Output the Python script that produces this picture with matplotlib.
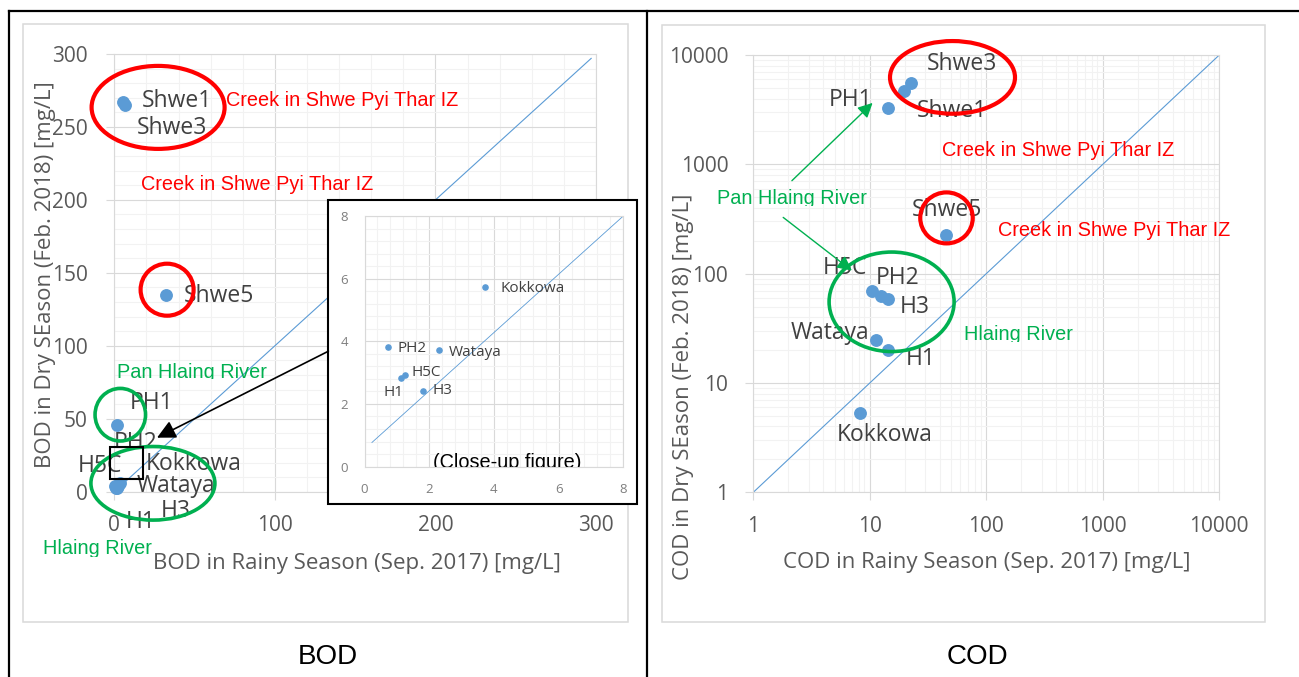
import matplotlib
matplotlib.use('Agg')
import matplotlib.pyplot as plt
from matplotlib import font_manager
from matplotlib.patches import Ellipse, Rectangle, FancyArrowPatch
from matplotlib.lines import Line2D
from matplotlib.ticker import MultipleLocator, LogLocator, NullFormatter, FuncFormatter
from matplotlib.transforms import Bbox, TransformedBbox

# ---- data ----
sites = ['Shwe1', 'Shwe3', 'Shwe5', 'PH1', 'PH2', 'H5C', 'H1', 'H3', 'Wataya', 'Kokkowa']
bod_rainy = [5.4, 6.7, 32.1, 1.9, 0.72, 1.26, 1.14, 1.80, 2.30, 3.71]
bod_dry = [267, 265, 134.7, 45.6, 3.81, 2.94, 2.83, 2.42, 3.71, 5.73]
cod_rainy = [19.5, 22.8, 45, 14.4, 12.4, 10.4, 14.4, 14.4, 11.2, 8.3]
cod_dry = [4700, 5500, 225, 3300, 62, 70, 20, 59, 24.5, 5.3]
closeup_sites = ['PH2', 'H5C', 'H1', 'H3', 'Wataya', 'Kokkowa']

bod_xticks = [0, 100, 200, 300]
bod_yticks = [0, 50, 100, 150, 200, 250, 300]
closeup_ticks = [0, 2, 4, 6, 8]
cod_ticks = [1, 10, 100, 1000, 10000]
bod_line = [0, 297]
closeup_line_x = [0.23, 8]
closeup_line_y = [0.77, 8]
cod_line = [1, 10000]

# ---- layout (pixels, origin top-left) ----
W, H = 1299, 677

def fx(px):
    return px / W

def fy(py):
    return 1 - py / H

# label anchor: (left edge, vertical centre)
bod_label_pos = {
    'Shwe1': (141.6, 101), 'Shwe3': (137.2, 128), 'Shwe5': (184, 296),
    'PH1': (130.2, 403), 'PH2': (113.6, 443), 'H5C': (77.6, 466),
    'Kokkowa': (145.5, 464), 'Wataya': (136.4, 486), 'H3': (160.3, 511),
    'H1': (126, 522),
}
bod_label_clip = {'PH2': 447}
closeup_label_pos = {
    'Kokkowa': (500.6, 289), 'PH2': (397.6, 348), 'Wataya': (448.8, 352),
    'H5C': (411.3, 373), 'H1': (383.5, 392), 'H3': (432, 391),
}
cod_label_pos = {
    'Shwe3': (927.2, 64), 'Shwe1': (916.9, 111), 'PH1': (828.7, 100),
    'Shwe5': (911.5, 210), 'H5C': (823, 268), 'PH2': (875.5, 278),
    'H3': (899.5, 307), 'Wataya': (790.7, 333), 'H1': (905.7, 359),
    'Kokkowa': (837, 435),
}

BLUE = '#5B9BD5'
GRID = '#D9D9D9'
MINOR = '#F2F2F2'
TICK = '#595959'
LABEL = '#404040'
RED = '#FF0000'
GREEN = '#00B050'

# Arial-like face for the hand-placed notes (narrow variant if installed)
names = {f.name for f in font_manager.fontManager.ttflist}
if 'Liberation Sans Narrow' in names:
    NARROW, NSCALE = 'Liberation Sans Narrow', 1.0
else:
    NARROW, NSCALE = 'Liberation Sans', 0.84

plt.rcParams['font.family'] = ['Open Sans', 'DejaVu Sans']

fig = plt.figure(figsize=(W / 100, H / 100), dpi=100)


def clip_below(artist, py):
    artist.set_clip_box(TransformedBbox(Bbox.from_extents(0, fy(py), 1, 1), fig.transFigure))
    artist.set_clip_on(True)


def style(ax, size, padx, pady, ticklen):
    ax.set_facecolor('white')
    for s in ax.spines.values():
        s.set_color(GRID)
        s.set_linewidth(0.8)
    ax.grid(which='minor', color=MINOR, lw=0.8)
    ax.grid(which='major', color=GRID, lw=0.8)
    ax.set_axisbelow(True)
    ax.tick_params(which='major', direction='out', length=ticklen, width=0.8,
                   color=GRID, labelsize=size, labelcolor=TICK)
    ax.tick_params(which='minor', length=0)
    ax.tick_params(axis='x', pad=padx)
    ax.tick_params(axis='y', pad=pady)


def put_labels(ax, xs, ys, pos, size, clips={}):
    for name, x, y in zip(sites, xs, ys):
        if name not in pos:
            continue
        px, py = pos[name]
        a = ax.annotate(name, xy=(x, y), xytext=(px, H - py), textcoords='figure pixels',
                        ha='left', va='center', fontsize=size, color=LABEL,
                        annotation_clip=False)
        if name in clips:
            clip_below(a, clips[name])


def note(px, py, s, color, size=17, clip_bottom=None):
    t = fig.text(fx(px), fy(py), s, color=color, fontsize=size * NSCALE,
                 family=NARROW, ha='left', va='center')
    if clip_bottom is not None:
        clip_below(t, clip_bottom)
    return t


def ring(cx, cy, w, h, color, lw):
    fig.add_artist(Ellipse((fx(cx), fy(cy)), w / W, h / H, transform=fig.transFigure,
                           fill=False, edgecolor=color, lw=lw, zorder=4))


def arrow(x0, y0, x1, y1, color, lw, scale):
    fig.add_artist(FancyArrowPatch((fx(x0), fy(y0)), (fx(x1), fy(y1)),
                                   transform=fig.transFigure, arrowstyle='-|>',
                                   mutation_scale=scale, color=color, lw=lw,
                                   shrinkA=0, shrinkB=0, zorder=4))


# ---- table lines and chart frames ----
fig.add_artist(Line2D([fx(9), 1], [fy(10.5), fy(10.5)], transform=fig.transFigure,
                      color='black', lw=1.6))
for x in (9, 646.5):
    fig.add_artist(Line2D([fx(x), fx(x)], [fy(10.5), 0], transform=fig.transFigure,
                          color='black', lw=1.6))
for x0, y0, x1, y1 in [(22.7, 24, 627.7, 621.7), (662, 25, 1265, 621.7)]:
    fig.add_artist(Rectangle((fx(x0), fy(y1)), (x1 - x0) / W, (y1 - y0) / H,
                             transform=fig.transFigure, fill=False,
                             edgecolor=GRID, lw=1.1))

# ---- BOD ----
ax_b = fig.add_axes([fx(114.3), fy(491.7), (596 - 114.3) / W, (491.7 - 54) / H])
style(ax_b, 15, 11, 13, 6)
ax_b.set_xlim(0, 300)
ax_b.set_ylim(0, 300)
ax_b.set_xticks(bod_xticks)
ax_b.set_yticks(bod_yticks)
ax_b.xaxis.set_minor_locator(MultipleLocator(20))
ax_b.yaxis.set_minor_locator(MultipleLocator(10))
ax_b.plot(bod_line, bod_line, color=BLUE, lw=0.8, zorder=2)
ax_b.scatter(bod_rainy, bod_dry, s=68, color=BLUE, zorder=3, clip_on=False)
put_labels(ax_b, bod_rainy, bod_dry, bod_label_pos, 16.5, bod_label_clip)
ax_b.set_xlabel('BOD in Rainy Season (Sep. 2017) [mg/L]', fontsize=16, color=TICK, va='center')
ax_b.xaxis.set_label_coords((356.6 - 114.3) / 481.7, (491.7 - 563.3) / 437.7)
ax_b.set_ylabel('BOD in Dry SEason (Feb. 2018) [mg/L]', fontsize=16, color=TICK, va='center')
ax_b.yaxis.set_label_coords((45 - 114.3) / 481.7, (491.7 - 274.4) / 437.7)

# close-up inset
fig.add_artist(Rectangle((fx(328.4), fy(503.5)), (637.3 - 328.4) / W, (503.5 - 200) / H,
                         transform=fig.transFigure, facecolor='white',
                         edgecolor='black', lw=1.5, zorder=1.5))
ax_i = fig.add_axes([fx(364.5), fy(466.6), (623.3 - 364.5) / W, (466.6 - 216) / H], zorder=2)
style(ax_i, 9.5, 12, 12, 0)
ax_i.tick_params(labelcolor='#7F7F7F')
ax_i.set_xlim(0, 8)
ax_i.set_ylim(0, 8)
ax_i.set_xticks(closeup_ticks)
ax_i.set_yticks(closeup_ticks)
ax_i.xaxis.set_minor_locator(MultipleLocator(0.4))
ax_i.yaxis.set_minor_locator(MultipleLocator(0.4))
ax_i.plot(closeup_line_x, closeup_line_y, color=BLUE, lw=0.6, zorder=2)
keep = [s in closeup_sites for s in sites]
ax_i.scatter([v for v, k in zip(bod_rainy, keep) if k],
             [v for v, k in zip(bod_dry, keep) if k], s=14, color=BLUE, zorder=3)
put_labels(ax_i, bod_rainy, bod_dry, closeup_label_pos, 11)
ax_i.text(0.55, -0.006, '(Close-up figure)', transform=ax_i.transAxes, fontsize=17 * NSCALE,
          family=NARROW, color='black', ha='center', va='baseline', clip_on=True)

# BOD annotations
note(226.4, 101, 'Creek in Shwe Pyi Thar IZ', RED)
note(141.3, 185, 'Creek in Shwe Pyi Thar IZ', RED)
note(116.9, 372, 'Pan Hlaing River', GREEN, clip_bottom=379.3)
note(43.4, 549, 'Hlaing River', GREEN, clip_bottom=557)
ring(158.1, 107.4, 133, 83, RED, 3)
ring(167.1, 289.7, 53, 52, RED, 3)
ring(120.3, 414.7, 50.5, 52.6, GREEN, 2.6)
ring(152.9, 483.3, 124, 73.6, GREEN, 2.6)
fig.add_artist(Rectangle((fx(109.5), fy(478.9)), 33.1 / W, 32.4 / H,
                         transform=fig.transFigure, fill=False,
                         edgecolor='black', lw=1.5, zorder=4))
arrow(328.4, 351.2, 157, 437.7, 'black', 1.2, 28)

# ---- COD ----
ax_c = fig.add_axes([fx(753.3), fy(492.3), (1219.3 - 753.3) / W, (492.3 - 55) / H])
ax_c.set_xscale('log')
ax_c.set_yscale('log')
style(ax_c, 15, 11, 12, 6)
ax_c.set_xlim(1, 10000)
ax_c.set_ylim(1, 10000)
ax_c.set_xticks(cod_ticks)
ax_c.set_yticks(cod_ticks)
plain = FuncFormatter(lambda v, p: f'{v:g}')
for axis in (ax_c.xaxis, ax_c.yaxis):
    axis.set_major_formatter(plain)
    axis.set_minor_locator(LogLocator(base=10, subs=range(2, 10)))
    axis.set_minor_formatter(NullFormatter())
ax_c.tick_params(which='minor', length=0)
ax_c.plot(cod_line, cod_line, color=BLUE, lw=0.8, zorder=2)
ax_c.scatter(cod_rainy, cod_dry, s=68, color=BLUE, zorder=3)
put_labels(ax_c, cod_rainy, cod_dry, cod_label_pos, 16.5)
ax_c.set_xlabel('COD in Rainy Season (Sep. 2017) [mg/L]', fontsize=16, color=TICK, va='center')
ax_c.xaxis.set_label_coords((986.6 - 753.3) / 466, (492.3 - 562.3) / 437.3)
ax_c.set_ylabel('COD in Dry SEason (Feb. 2018) [mg/L]', fontsize=16, color=TICK, va='center')
ax_c.yaxis.set_label_coords((683 - 753.3) / 466, (492.3 - 387) / 437.3)

note(941.7, 151, 'Creek in Shwe Pyi Thar IZ', RED)
note(998.4, 230, 'Creek in Shwe Pyi Thar IZ', RED)
note(717.4, 198, 'Pan Hlaing River', GREEN, clip_bottom=205.8)
note(964.4, 334, 'Hlaing River', GREEN, clip_bottom=341.5)
ring(952.5, 77.4, 125, 72.7, RED, 3)
ring(946.5, 217.9, 52.5, 51, RED, 3)
ring(891.6, 301.8, 125, 99.5, GREEN, 2.6)
arrow(791.9, 180.7, 872.6, 102.9, GREEN, 1, 22)
arrow(783.2, 217.4, 851.9, 270.6, GREEN, 1, 22)

# ---- captions under the charts ----
fig.text(fx(327.5), fy(657), 'BOD', fontsize=20, family=NARROW, color='black',
         ha='center', va='center')
fig.text(fx(977.5), fy(657), 'COD', fontsize=20, family=NARROW, color='black',
         ha='center', va='center')

fig.savefig('out.png', dpi=100, facecolor='white')
